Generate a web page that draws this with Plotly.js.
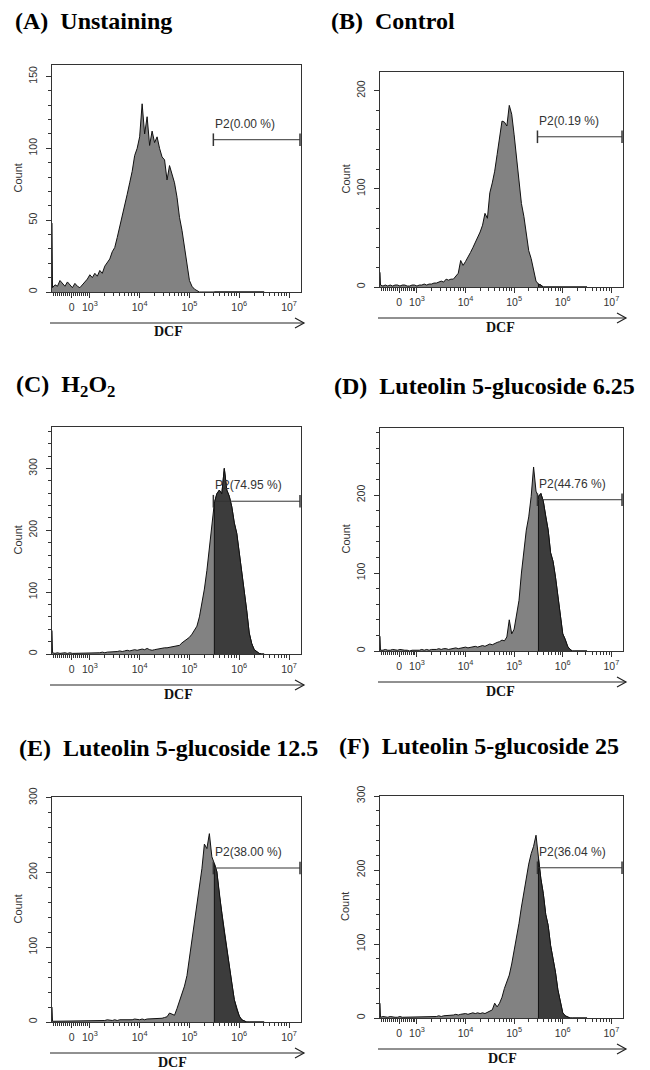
<!DOCTYPE html>
<html><head><meta charset="utf-8">
<script src="https://cdn.plot.ly/plotly-3.0.1.min.js"></script>
<style>html,body{margin:0;padding:0;background:#fff}#chart{width:650px;height:1070px}</style>
</head><body><div id="chart"></div>
<script>
// ---------------- data ----------------
const panelTitles = [
  "(A)\u00a0 Unstaining",
  "(B)\u00a0 Control",
  "(C)\u00a0 H<sub>2</sub>O<sub>2</sub>",
  "(D)\u00a0 Luteolin 5-glucoside 6.25",
  "(E)\u00a0 Luteolin 5-glucoside 12.5",
  "(F)\u00a0 Luteolin 5-glucoside 25"
];
const gateLabels = ["P2(0.00 %)", "P2(0.19 %)", "P2(74.95 %)", "P2(44.76 %)", "P2(38.00 %)", "P2(36.04 %)"];
const xTickVals = [2.635, 3, 4, 5, 6, 7];
const xTickText = ["0", "10<sup>3</sup>", "10<sup>4</sup>", "10<sup>5</sup>", "10<sup>6</sup>", "10<sup>7</sup>"];

// DCF bin positions (log10 display units)
const binsLogDCF = [2.24, 2.25,
  2.30, 2.35, 2.40, 2.45, 2.50, 2.55, 2.60, 2.65, 2.70, 2.75,
  2.80, 2.85, 2.90, 2.95, 3.00, 3.05, 3.10, 3.15, 3.20, 3.25,
  3.30, 3.35, 3.40, 3.45, 3.50, 3.55, 3.60, 3.65, 3.70, 3.75,
  3.80, 3.85, 3.90, 3.95, 4.00, 4.05, 4.10, 4.15, 4.20, 4.25,
  4.30, 4.35, 4.40, 4.45, 4.50, 4.55, 4.60, 4.65, 4.70, 4.75,
  4.80, 4.85, 4.90, 4.95, 5.00, 5.05, 5.10, 5.15, 5.20, 5.25,
  5.30, 5.35, 5.40, 5.45, 5.50, 5.55, 5.60, 5.65, 5.70, 5.75,
  5.80, 5.85, 5.90, 5.95, 6.00, 6.05, 6.10, 6.15, 6.20, 6.25,
  6.30, 6.35, 6.40, 6.45, 6.50];

const countsA = [48, 3,
  5, 4, 8, 6, 4, 7, 5, 3, 6, 4,
  3, 5, 7, 9, 12, 10, 13, 11, 15, 13,
  18, 21, 23, 28, 31, 38, 45, 52, 60, 68,
  76, 84, 95, 100, 108, 131, 110, 122, 102, 112,
  104, 108, 100, 94, 92, 78, 88, 82, 76, 66,
  52, 43, 31, 17, 8, 4, 2, 1, 0, 0,
  0, 0, 0, 0, 0, 0, 0, 0, 0, 0,
  0, 0, 0, 0, 0, 0, 0, 0, 0, 0,
  0, 0, 0, 0, 0];
const countsB = [15, 2,
  1, 2, 1, 2, 1, 2, 2, 1, 2, 2,
  1, 1, 2, 2, 1, 2, 2, 3, 2, 3,
  3, 4, 4, 5, 6, 5, 8, 7, 8, 8,
  11, 14, 27, 22, 26, 30, 35, 40, 45, 50,
  56, 63, 75, 70, 96, 106, 118, 135, 150, 169,
  168, 164, 185, 176, 155, 130, 105, 85, 72, 52,
  37, 29, 16, 6, 3, 2, 0, 0, 0, 0,
  0, 0, 0, 0, 0, 0, 0, 0, 0, 0,
  0, 0, 0, 0, 0];
const countsC = [38, 2,
  1, 2, 1, 2, 2, 1, 2, 1, 1, 2,
  1, 1, 2, 1, 1, 2, 1, 2, 2, 3,
  2, 3, 3, 4, 3, 4, 5, 4, 5, 6,
  5, 6, 7, 6, 7, 8, 7, 9, 7, 6,
  7, 8, 8, 9, 10, 10, 11, 12, 12, 13,
  14, 18, 21, 24, 27, 32, 38, 45, 60, 80,
  105, 135, 170, 210, 244, 259, 265, 259, 300, 265,
  255, 238, 212, 195, 165, 130, 100, 70, 34, 17,
  7, 4, 1, 0, 0];
const countsD = [19, 1,
  1, 2, 1, 1, 2, 1, 1, 2, 1, 1,
  1, 0, 1, 1, 1, 1, 2, 1, 2, 1,
  2, 2, 2, 3, 2, 3, 3, 2, 3, 3,
  4, 3, 4, 4, 5, 4, 5, 5, 6, 5,
  6, 7, 6, 8, 9, 8, 10, 11, 12, 14,
  13, 18, 40, 22, 28, 45, 65, 100, 130, 155,
  172, 198, 236, 205, 198, 202, 192, 172, 155, 126,
  115, 95, 68, 45, 22, 15, 6, 2, 0, 0,
  0, 0, 0, 0, 0];
const countsE = [20, 1,
  1, 1, 2, 1, 1, 1, 2, 1, 1, 1,
  2, 1, 1, 2, 1, 2, 2, 1, 2, 2,
  2, 3, 2, 2, 3, 2, 3, 3, 2, 3,
  3, 3, 4, 3, 3, 4, 3, 4, 4, 4,
  4, 5, 4, 5, 6, 7, 12, 10, 9, 18,
  28, 38, 48, 62, 85, 110, 132, 155, 180, 205,
  238, 232, 252, 221, 212, 201, 170, 145, 120, 98,
  72, 52, 30, 17, 8, 3, 1, 0, 0, 0,
  0, 0, 0, 0, 0];
const countsF = [20, 1,
  2, 1, 1, 2, 1, 1, 1, 2, 1, 1,
  1, 2, 1, 1, 2, 1, 2, 1, 2, 2,
  2, 2, 2, 3, 2, 3, 3, 4, 3, 4,
  5, 4, 5, 6, 6, 5, 6, 7, 6, 7,
  6, 7, 6, 8, 10, 11, 20, 15, 20, 28,
  40, 50, 58, 73, 90, 108, 128, 150, 170, 190,
  208, 222, 232, 247, 215, 188, 168, 140, 125, 98,
  80, 62, 38, 20, 7, 3, 1, 0, 0, 0,
  0, 0, 0, 0, 0];
const panelCounts = [countsA, countsB, countsC, countsD, countsE, countsF];

const gateStart = 5.48, gateEnd = 7.22, gateSplit = 5.49;
const gateBarY = [106, 153, 247, 194, 206, 203];
const yTop = [158, 219, 367, 286, 301, 300];
const yMajor = [50, 100, 100, 100, 100, 100];
const yMinor = [10, 20, 20, 20, 20, 20];

// ---------------- layout geometry (pixels) ----------------
const W = 650, H = 1070;
const boxes = [
  {l: 52, r: 301, t: 65, b: 292},
  {l: 380, r: 623, t: 72, b: 287},
  {l: 52, r: 301, t: 427, b: 654},
  {l: 380, r: 623, t: 428, b: 651},
  {l: 52, r: 301, t: 797, b: 1022},
  {l: 380, r: 623, t: 796, b: 1018}
];
const titlePos = [{x: 13, y: 21}, {x: 329, y: 21}, {x: 14, y: 386}, {x: 332, y: 386}, {x: 17, y: 748}, {x: 337, y: 746}];
const dcfX = [168, 500, 178, 500, 172, 502];

const minorX = [2.27, 2.31, 2.35, 2.39, 2.43, 2.47, 2.51, 2.55, 2.59, 2.68, 2.72, 2.76, 2.80, 2.84, 2.88, 2.92, 2.96];
for (let k = 3; k < 7; k++) for (let m = 2; m <= 9; m++) minorX.push(k + Math.log10(m));

const tickFont = {family: "Liberation Sans, Arial, sans-serif", size: 10.5, color: "#333"};
const px = v => v / W, py = v => 1 - v / H;
const traces = [];
const layout = {
  width: W, height: H, margin: {l: 0, r: 0, t: 0, b: 0},
  paper_bgcolor: "#fff", plot_bgcolor: "#fff", showlegend: false,
  annotations: [], shapes: []
};

for (let i = 0; i < 6; i++) {
  const bx = boxes[i];
  const xs = i === 0 ? "" : String(i + 1);
  const xa = "x" + xs, ya = "y" + xs;
  layout["xaxis" + xs] = {
    domain: [px(bx.l), px(bx.r)], anchor: ya, range: [2.24, 7.24],
    showline: true, linecolor: "#333", linewidth: 1, mirror: true,
    ticks: "outside", ticklen: 5, tickcolor: "#333", tickwidth: 1,
    tickmode: "array", tickvals: xTickVals, ticktext: xTickText, tickfont: tickFont,
    minor: {tickmode: "array", tickvals: minorX, ticks: "outside", ticklen: 3, tickcolor: "#333"},
    showgrid: false, zeroline: false, fixedrange: true
  };
  layout["yaxis" + xs] = {
    domain: [py(bx.b), py(bx.t)], anchor: xa, range: [0, yTop[i]],
    showline: true, linecolor: "#333", linewidth: 1, mirror: true,
    ticks: "outside", ticklen: 5, tickcolor: "#333", tickwidth: 1,
    dtick: yMajor[i], tick0: 0, tickangle: -90, tickfont: tickFont, ticklabelstandoff: 5,
    minor: {dtick: yMinor[i], tick0: 0, ticks: "outside", ticklen: 3, tickcolor: "#333"},
    showgrid: false, zeroline: false, fixedrange: true
  };

  const cnt = panelCounts[i];
  traces.push({
    type: "scatter", mode: "lines", x: binsLogDCF, y: cnt, xaxis: xa, yaxis: ya,
    fill: "tozeroy", fillcolor: "#828282", line: {color: "#111", width: 1, shape: "linear"},
    hoverinfo: "skip"
  });
  const dx = [], dy = [];
  binsLogDCF.forEach((v, j) => { if (v >= gateSplit) { if (!dx.length) { dx.push(v); dy.push(0); } dx.push(v); dy.push(cnt[j]); } });
  traces.push({
    type: "scatter", mode: "lines", x: dx, y: dy, xaxis: xa, yaxis: ya,
    fill: "tozeroy", fillcolor: "#3c3c3c", line: {color: "#111", width: 1, shape: "linear"},
    hoverinfo: "skip"
  });
  traces.push({
    type: "scatter", mode: "lines+markers", x: [gateStart, gateEnd], y: [gateBarY[i], gateBarY[i]],
    xaxis: xa, yaxis: ya, line: {color: "#333", width: 1},
    marker: {symbol: "line-ns-open", size: 9, line: {color: "#222", width: 1.5}},
    hoverinfo: "skip"
  });

  layout.annotations.push({
    xref: xa, yref: ya, x: gateStart, y: gateBarY[i], yshift: 16, xanchor: "left", yanchor: "middle",
    text: gateLabels[i], showarrow: false,
    font: {family: "Liberation Sans, Arial, sans-serif", size: 12, color: "#333"}
  });
  layout.annotations.push({
    xref: "paper", yref: "paper", x: px(titlePos[i].x), y: py(titlePos[i].y),
    xanchor: "left", yanchor: "middle", text: "<b>" + panelTitles[i] + "</b>", showarrow: false,
    font: {family: "Liberation Serif, Times New Roman, serif", size: 24, color: "#000"}
  });
  layout.annotations.push({
    xref: "paper", yref: "paper", x: px(bx.l - 35), y: py((bx.t + bx.b) / 2),
    xanchor: "center", yanchor: "middle", textangle: -90, text: "Count", showarrow: false,
    font: {family: "Liberation Sans, Arial, sans-serif", size: 11, color: "#333"}
  });
  // DCF arrow (decoration)
  const ay = bx.b + 31, ax0 = bx.l - 2, ax1 = bx.r + 3;
  layout.shapes.push({type: "line", xref: "paper", yref: "paper", x0: px(ax0), x1: px(ax1), y0: py(ay), y1: py(ay),
    line: {color: "#222", width: 1}});
  layout.shapes.push({type: "path", xref: "paper", yref: "paper",
    path: "M" + px(ax1 - 9) + "," + py(ay - 5) + " L" + px(ax1) + "," + py(ay) + " L" + px(ax1 - 9) + "," + py(ay + 5),
    line: {color: "#222", width: 1.2}});
  layout.annotations.push({
    xref: "paper", yref: "paper", x: px(dcfX[i]), y: py(bx.b + 40),
    xanchor: "center", yanchor: "middle", text: "<b>DCF</b>", showarrow: false,
    font: {family: "Liberation Serif, Times New Roman, serif", size: 14, color: "#111"}
  });
}

Plotly.newPlot("chart", traces, layout, {displayModeBar: false, staticPlot: true});
</script>
</body></html>
